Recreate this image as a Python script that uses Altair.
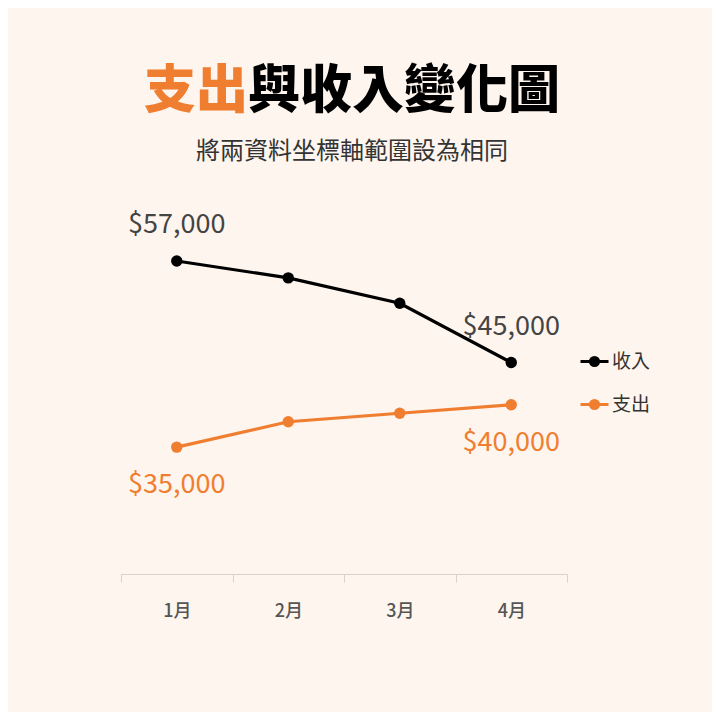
import altair as alt
import pandas as pd

# data
months = ['1月', '2月', '3月', '4月']
income = [57000, 55000, 52000, 45000]
expense = [35000, 38000, 39000, 40000]
series = ['收入', '支出']

FONT = 'Noto Sans CJK TC'
ORANGE = '#F07E30'
BG = '#FEF5EE'

data = pd.DataFrame({
    'month': months * 2,
    'type': ['收入'] * len(months) + ['支出'] * len(months),
    'value': income + expense,
})
data['label'] = data['value'].map(lambda v: f'${v:,}')


def ring(r):
    return f'M{-r},0A{r},{r},0,1,1,{r},0A{r},{r},0,1,1,{-r},0Z'


# short line with a dot, drawn only with strokes
symbol_path = 'M-1,0L1,0' + ring(0.29) + ring(0.18) + ring(0.07)

x = alt.X('month:N', sort=months, title=None,
          scale=alt.Scale(paddingInner=0, paddingOuter=0),
          axis=alt.Axis(labelAngle=0, tickBand='extent', domainColor='#d9d2ca',
                        tickColor='#d9d2ca', tickSize=8, labelFontSize=18,
                        labelFontWeight=500, labelColor='#555555',
                        labelPadding=20, labelFont=FONT, grid=False))
y = alt.Y('value:Q', title=None, axis=None,
          scale=alt.Scale(domain=[20000, 70000], nice=False, zero=False))
cscale = alt.Scale(domain=series, range=['#000000', ORANGE])

base = alt.Chart(data).encode(x=x, y=y)

lines = base.mark_line(strokeWidth=3.2).encode(
    color=alt.Color('type:N', title=None, scale=cscale, legend=alt.Legend(
        orient='none', legendX=458, legendY=195, padding=0,
        symbolType=symbol_path, symbolSize=784, symbolStrokeWidth=3,
        labelFontSize=19, labelColor='#333333', labelFont=FONT,
        labelOffset=2, rowPadding=17,
    ))
)

points = base.mark_point(filled=True, size=130, opacity=1).encode(
    color=alt.Color('type:N', scale=cscale, legend=None)
)

ends = base.transform_filter(alt.FieldOneOfPredicate(field='month', oneOf=['1月', '4月']))
income_labels = ends.transform_filter(alt.datum.type == '收入').mark_text(
    dy=-36, fontSize=27, font=FONT, color='#444444').encode(text='label:N')
expense_labels = ends.transform_filter(alt.datum.type == '支出').mark_text(
    dy=38, fontSize=27, font=FONT, color=ORANGE).encode(text='label:N')

one = pd.DataFrame({'t': ['']})
title_orange = alt.Chart(one).mark_text(
    text='支出', font=FONT, fontSize=52, fontWeight=900,
    color=ORANGE, align='right', baseline='middle'
).encode(x=alt.value(127), y=alt.value(-59))
title_black = alt.Chart(one).mark_text(
    text='與收入變化圖', font=FONT, fontSize=52, fontWeight=900,
    color='#000000', align='left', baseline='middle'
).encode(x=alt.value(127), y=alt.value(-59))
subtitle = alt.Chart(one).mark_text(
    text='將兩資料坐標軸範圍設為相同', font=FONT, fontSize=24,
    color='#333333', align='center', baseline='middle'
).encode(x=alt.value(231), y=alt.value(1))

chart = alt.layer(
    lines, points, income_labels, expense_labels,
    title_orange, title_black, subtitle
).properties(
    width=446, height=423,
    autosize=alt.AutoSizeParams(type='none'),
    padding={'left': 113, 'top': 143, 'right': 145, 'bottom': 138},
).configure(background=BG).configure_view(stroke=None)

chart.save("out.html", embed_options={"renderer": "svg", "actions": False})
